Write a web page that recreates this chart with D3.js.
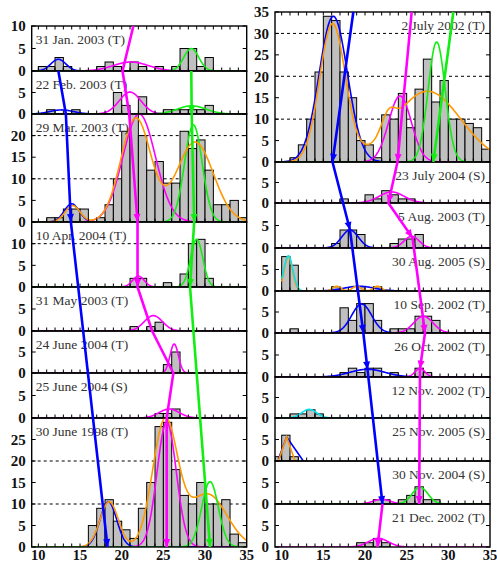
<!DOCTYPE html>
<html><head><meta charset="utf-8">
<script src="https://cdn.jsdelivr.net/npm/d3@7"></script>
<style>body{margin:0;background:#fff}svg{display:block}</style>
</head><body>
<script>
// ---------------- DATA ----------------
const leftTitles = ["31 Jan. 2003 (T)","22 Feb. 2003 (T)","29 Mar. 2003 (T)","10 Apr. 2004 (T)","31 May 2003 (T)","24 June 2004 (T)","25 June 2004 (S)","30 June 1998 (T)"];
const rightTitles = ["2 July 2002 (T)","23 July 2004 (S)","5 Aug. 2003 (T)","30 Aug. 2005 (S)","10 Sep. 2002 (T)","26 Oct. 2002 (T)","12 Nov. 2002 (T)","25 Nov. 2005 (S)","30 Nov. 2004 (S)","21 Dec. 2002 (T)"];
const leftYMax = [10,10,25,15,10,10,10,30];
const rightYMax = [35,10,10,10,10,10,10,10,10,10];
const xTickLabels = [10,15,20,25,30,35];

// histograms: [bin start, count]
const histL1 = [[10,1],[11,1],[12,3],[13,1],[17,1],[18,2],[19,1],[21,2],[22,1],[24,1],[26,1],[27,5],[28,5],[29,1],[30,3]];
const histL2 = [[11,1],[14,1],[19,5],[20,2],[22,4],[25,1],[26,1],[27,1],[28,1],[29,1],[30,2]];
const histL3 = [[11,1],[12,1],[13,3],[14,3],[15,3],[17,1],[18,4],[19,10],[20,21],[21,25],[22,20],[23,12],[24,14],[25,9],[26,9],[27,21],[28,17],[29,19],[30,12],[31,4],[32,4],[33,5],[34,1]];
const histL4 = [[21,2],[22,2],[25,1],[27,3],[28,10],[29,11],[30,2]];
const histL5 = [[21,1],[23,1],[24,2]];
const histL6 = [[25,2],[26,5]];
const histL7 = [[24,1],[25,1],[26,2]];
const histL8 = [[16,5],[17,9],[18,11],[19,6],[20,4],[21,2],[22,9],[23,15],[24,28],[25,29],[26,18],[27,12],[28,10],[29,15],[30,10],[31,10],[32,11],[33,3],[34,1]];
const histR1 = [[11,1],[12,4],[13,10],[14,21],[15,34],[16,33],[17,21],[18,15],[19,5],[20,4],[21,1],[22,11],[23,10],[24,16],[25,8],[26,17],[27,24],[28,14],[29,19],[30,10],[31,10],[32,9],[33,8],[34,3]];
const histR2 = [[17,1],[20,2],[21,1],[22,3],[23,2],[24,1],[25,1]];
const histR3 = [[16,1],[17,4],[18,4],[19,3],[23,1],[24,2],[25,2],[26,3]];
const histR4 = [[10,8],[11,6],[16,1],[19,1],[21,1]];
const histR5 = [[11,1],[17,6],[18,3],[19,7],[20,7],[21,3],[23,1],[24,1],[25,1],[26,4],[27,4],[28,3]];
const histR6 = [[17,1],[18,2],[19,1],[20,2],[21,2],[23,1],[26,2],[27,1]];
const histR7 = [[11,1],[12,1],[13,2],[14,1]];
const histR8 = [[9,1],[10,6],[11,1]];
const histR9 = [[21,1],[22,1],[24,1],[25,2],[26,4],[27,1],[28,1]];
const histR10 = [[19,1],[20,1],[21,2],[22,1]];

// fitted curves: [colour, gaussian components [amp, mean, sigma], x-range, explicit points]
const fitsL1 = [["blue",[[2.6,12.4,0.9]]],["magenta",[[2,21.1,2.1]]],["green",[[5,28.35,0.9]]]];
const fitsL2 = [["blue",[[0.95,12.8,1.4]]],["magenta",[[5.1,21.0,1.3]]],["green",[[1.9,28.4,1.7]]]];
const fitsL3 = [["blue",[[4.2,14.0,0.9]]],["magenta",[[25,22.1,1.95]]],["green",[[22.5,28.6,1.06]]],["orange",[[3.8,14.1,0.9],[24,21.7,1.8],[18.5,28.8,2.2]]]];
const fitsL4 = [["magenta",[[2.5,22.0,0.7]]],["green",[[11,29.0,0.73]]]];
const fitsL5 = [["magenta",[[3.5,23.8,1.1]]]];
const fitsL6 = [["magenta",[[6.9,26.3,0.5]]]];
const fitsL7 = [["magenta",[[2,25.7,1.2]]]];
const fitsL8 = [["blue",[[10.5,18.4,1.0]]],["magenta",[[29,25.4,1.15]]],["orange",[[10.5,18.5,1.1],[29,25.2,1.5],[12.3,30.3,2.3]]],["green",[[15.2,30.6,1.0]]]];
const fitsR1 = [["blue",[[34,16.2,1.7]]],["magenta",[[15.4,24.2,1.36]]],["orange",[[32,16.1,1.55],[4,22.8,0.8],[16.5,27.5,4]]],["green",[[28,28.6,1.02]]]];
const fitsR2 = [["magenta",[[2.7,23.2,1.5]]]];
const fitsR3 = [["blue",[[4,18.2,1.0]]],["magenta",[[2.6,25.6,0.9]]]];
const fitsR4 = [["blue",[[1.1,19.3,1.8]],[14.5,24.5]],["orange",[[8,10.8,0.5],[1.1,16.6,0.5],[1.1,19.0,0.5],[1.1,21.5,0.5]],[10,22.6]],["cyan",[[8.2,10.8,0.55]],[10,12.6]]];
const fitsR5 = [["blue",[[6.9,19.6,1.2]]],["magenta",[[4,27.0,1.15]]]];
const fitsR6 = [["blue",[[1.75,20.3,2.1]]],["magenta",[[1.95,26.6,0.6]]]];
const fitsR7 = [["cyan",[[2.1,13.3,0.9]]]];
const fitsR8 = [["blue",null,null,[[9.6,0.4],[10.6,5.6],[12.6,0]]],["orange",null,null,[[9.6,0],[10.6,5.6],[11.6,0]]]];
const fitsR9 = [["magenta",[[1.1,22.0,1.0]]],["green",[[3.9,26.6,0.95]]]];
const fitsR10 = [["magenta",[[2,21.6,1.2]]]];

// trend lines of the peak positions: [panel, position, count, arrow]
const trendBlueL = [["L1",12.4,0,0],["L2",13.3,0,0],["L3",13.9,0,1],["L8",18.3,0,1]];
const trendMagentaL = [["L1",21.4,10,0],["L1",20.1,0,0],["L2",20.9,0,0],["L3",21.9,0,1],["L4",21.9,0,1],["L5",23.65,0,0],["L6",26.2,0,0],["L7",25.4,0,0],["L8",25.4,0,1]];
const trendGreenL = [["L1",28.35,0,0],["L2",28.4,0,1],["L3",28.7,0,1],["L4",28.2,0,1],["L8",30.6,0,1]];
const trendBlueR = [["R1",18.6,35,0],["R1",16.1,0,1],["R3",18.2,4,1],["R5",19.8,0,1],["R6",20.3,1.7,1],["R9",22.1,0,1]];
const trendMagentaR = [["R1",25.6,35,0],["R1",23.9,0,1],["R2",22.8,0,1],["R3",25.7,2.3,1],["R5",27.2,0,1],["R6",26.6,1.9,1],["R9",26.5,0,1]];
const trendMagentaR2 = [["R9",22.1,0,0],["R10",21.5,0,1]];
const trendGreenR = [["R1",30.6,35,0],["R1",28.2,0,1]];

// ---------------- LAYOUT / STYLE ----------------
const COLORS = {blue:"#0000ff", magenta:"#ff00ff", green:"#11ee11", orange:"#ff9900", cyan:"#00e5f0"};
const X0 = 9.2, X1 = 35;
const leftBounds = [26,71,114,222,287,331,373,418,547];
const rightBounds = [12,162,203,248,291,333,377,418,461,504,547];
const serif = "'Liberation Serif','Times New Roman',serif";

const histsL = [histL1,histL2,histL3,histL4,histL5,histL6,histL7,histL8];
const histsR = [histR1,histR2,histR3,histR4,histR5,histR6,histR7,histR8,histR9,histR10];
const fitsLAll = [fitsL1,fitsL2,fitsL3,fitsL4,fitsL5,fitsL6,fitsL7,fitsL8];
const fitsRAll = [fitsR1,fitsR2,fitsR3,fitsR4,fitsR5,fitsR6,fitsR7,fitsR8,fitsR9,fitsR10];

const columns = [
  {prefix:"L", titles:leftTitles, ymax:leftYMax, bounds:leftBounds, hists:histsL, fits:fitsLAll,
   x:d3.scaleLinear([X0,X1],[31.7,246.7]), anchor:"start"},
  {prefix:"R", titles:rightTitles, ymax:rightYMax, bounds:rightBounds, hists:histsR, fits:fitsRAll,
   x:d3.scaleLinear([X0,X1],[275,490]), anchor:"end"}
];

const svg = d3.select("body").append("svg").attr("width",497).attr("height",564);
const panels = {};

columns.forEach(col => {
  col.titles.forEach((t,i) => {
    const top = col.bounds[i], bot = col.bounds[i+1];
    const y = d3.scaleLinear([0,col.ymax[i]],[bot,top]);
    panels[col.prefix+(i+1)] = {x:col.x, y};
  });
});

columns.forEach(col => {
  const x = col.x;
  const [xl,xr] = x.range();
  col.titles.forEach((title,i) => {
    const top = col.bounds[i], bot = col.bounds[i+1], ymax = col.ymax[i];
    const y = panels[col.prefix+(i+1)].y;
    const g = svg.append("g");
    const clipId = "clip"+col.prefix+i;
    svg.append("clipPath").attr("id",clipId).append("rect")
      .attr("x",xl).attr("y",top).attr("width",xr-xl).attr("height",bot-top);
    const inner = g.append("g").attr("clip-path",`url(#${clipId})`);
    // dashed grid
    d3.range(10,ymax,10).forEach(v => {
      inner.append("line").attr("x1",xl).attr("x2",xr).attr("y1",y(v)).attr("y2",y(v))
        .attr("stroke","#000").attr("stroke-width",1).attr("stroke-dasharray","3,3");
    });
    // bars
    inner.selectAll("rect.bar").data(col.hists[i]).join("rect").attr("class","bar")
      .attr("x",d=>x(Math.max(d[0],X0))).attr("width",d=>x(d[0]+1)-x(Math.max(d[0],X0)))
      .attr("y",d=>y(d[1])).attr("height",d=>y(0)-y(d[1]))
      .attr("fill","#c0c0c0").attr("stroke","#000").attr("stroke-width",1);
    // fitted curves
    col.fits[i].forEach(f => {
      const [cname, comps, range, pts] = f;
      let data;
      if (pts) data = pts;
      else {
        const r = range || [X0,X1];
        data = d3.range(r[0], r[1]+0.001, 0.05).map(v => [v, d3.sum(comps, c => c[0]*Math.exp(-((v-c[1])**2)/(2*c[2]*c[2])))]);
      }
      inner.append("path").datum(data)
        .attr("d", d3.line().x(d=>x(d[0])).y(d=>y(d[1])))
        .attr("fill","none").attr("stroke",COLORS[cname]).attr("stroke-width",1.6);
    });
    // frame
    g.append("rect").attr("x",xl).attr("y",top).attr("width",xr-xl).attr("height",bot-top)
      .attr("fill","none").attr("stroke","#000").attr("stroke-width",1.4);
    // x minor ticks
    d3.range(10,35).forEach(v => {
      g.append("line").attr("x1",x(v)).attr("x2",x(v)).attr("y1",bot).attr("y2",bot-3.5)
        .attr("stroke","#000").attr("stroke-width",1);
      if (i===0) g.append("line").attr("x1",x(v)).attr("x2",x(v)).attr("y1",top).attr("y2",top+3.5)
        .attr("stroke","#000").attr("stroke-width",1);
    });
    // y ticks & labels
    const yt = d3.range(0,ymax,5);
    if (i===0) yt.push(ymax);
    yt.forEach(v => {
      g.append("line").attr("x1",xl).attr("x2",xl+4).attr("y1",y(v)).attr("y2",y(v)).attr("stroke","#000");
      g.append("line").attr("x1",xr).attr("x2",xr-4).attr("y1",y(v)).attr("y2",y(v)).attr("stroke","#000");
      g.append("text").attr("x",xl-6).attr("y",y(v)).attr("dy","0.35em")
        .attr("text-anchor","end").attr("font-family",serif).attr("font-weight","bold")
        .attr("font-size",15).attr("fill","#111").text(v);
    });
    // title
    g.append("text").attr("x", col.anchor==="start" ? xl+4 : xr-5).attr("y", top+18)
      .attr("text-anchor",col.anchor).attr("font-family",serif).attr("font-size",13.5)
      .attr("fill","#333").text(title);
  });
  // bottom axis labels
  xTickLabels.forEach(v => {
    svg.append("text").attr("x",x(v)).attr("y",560).attr("text-anchor","middle")
      .attr("font-family",serif).attr("font-weight","bold").attr("font-size",14.5)
      .attr("fill","#111").text(v);
  });
});

// trend lines
function drawTrend(pts, cname) {
  const P = pts.map(p => { const pn = panels[p[0]]; return [pn.x(p[1]), pn.y(p[2]), p[3]]; });
  svg.append("path").datum(P).attr("d", d3.line().x(d=>d[0]).y(d=>d[1]))
    .attr("fill","none").attr("stroke",COLORS[cname]).attr("stroke-width",2.6)
    .attr("stroke-linejoin","round");
  P.forEach((p,k) => {
    if (!p[2] || k===0) return;
    const q = P[k-1];
    let dx = p[0]-q[0], dy = p[1]-q[1]; const L = Math.hypot(dx,dy)||1; dx/=L; dy/=L;
    const bx = p[0]-dx*8, by = p[1]-dy*8;
    svg.append("path").attr("d",`M${p[0]},${p[1]}L${bx-dy*3.5},${by+dx*3.5}L${bx+dy*3.5},${by-dx*3.5}Z`)
      .attr("fill",COLORS[cname]);
  });
}
drawTrend(trendBlueL,"blue");
drawTrend(trendMagentaL,"magenta");
drawTrend(trendGreenL,"green");
drawTrend(trendBlueR,"blue");
drawTrend(trendMagentaR,"magenta");
drawTrend(trendMagentaR2,"magenta");
drawTrend(trendGreenR,"green");
</script>
</body></html>
